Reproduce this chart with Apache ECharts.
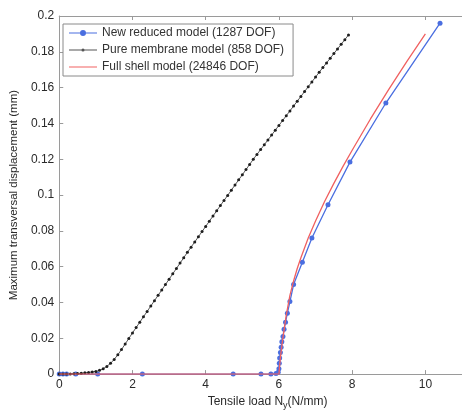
<!DOCTYPE html>
<html>
<head>
<meta charset="utf-8">
<script src="https://cdn.jsdelivr.net/npm/echarts@6/dist/echarts.min.js"></script>
<style>html,body{margin:0;padding:0;background:#fff}#c{width:462px;height:415px}</style>
</head>
<body>
<div id="c"></div>
<script>
// ---- data ----
var seriesNames = ['New reduced model (1287 DOF)', 'Pure membrane model (858 DOF)', 'Full shell model (24846 DOF)'];
var xTicks = [0, 2, 4, 6, 8, 10];
var yTicks = [0, 0.02, 0.04, 0.06, 0.08, 0.1, 0.12, 0.14, 0.16, 0.18, 0.2];

var blueX = [0, 0.1, 0.2, 0.45, 1.05, 2.27, 4.75, 5.51, 5.78, 5.92, 5.98, 6.0, 6.01, 6.02, 6.04, 6.06, 6.08, 6.11, 6.14, 6.18, 6.23, 6.3, 6.4, 6.64, 6.9, 7.34, 7.94, 8.92, 10.4];
var blueY = [0, 0, 0, 0, 0, 0, 0, 0, 0, 0.0003, 0.001, 0.003, 0.006, 0.009, 0.012, 0.015, 0.018, 0.021, 0.025, 0.029, 0.034, 0.0405, 0.050, 0.0625, 0.076, 0.0946, 0.1184, 0.1514, 0.196];

var blackX = [0, 0.1, 0.2, 0.3, 0.4, 0.5, 0.6, 0.7, 0.8, 0.9,
  1.0, 1.1, 1.2, 1.3, 1.4, 1.5, 1.6, 1.7, 1.8, 1.9,
  2.0, 2.1, 2.2, 2.3, 2.4, 2.5, 2.6, 2.7, 2.8, 2.9,
  3.0, 3.1, 3.2, 3.3, 3.4, 3.5, 3.6, 3.7, 3.8, 3.9,
  4.0, 4.1, 4.2, 4.3, 4.4, 4.5, 4.6, 4.7, 4.8, 4.9,
  5.0, 5.1, 5.2, 5.3, 5.4, 5.5, 5.6, 5.7, 5.8, 5.9,
  6.0, 6.1, 6.2, 6.3, 6.4, 6.5, 6.6, 6.7, 6.8, 6.9,
  7.0, 7.1, 7.2, 7.3, 7.4, 7.5, 7.6, 7.7, 7.8, 7.9];
var blackY = [0, 0, 0, 0.0001, 0.0002, 0.0003, 0.0005, 0.0007, 0.0009, 0.0012,
  0.0015, 0.0021, 0.0030, 0.0043, 0.0060, 0.0082, 0.0108, 0.0137, 0.0168, 0.0199,
  0.0230, 0.0260, 0.0290, 0.0320, 0.0350, 0.0380, 0.0410, 0.0440, 0.0470, 0.0500,
  0.0530, 0.0560, 0.0590, 0.0620, 0.0650, 0.0680, 0.0709, 0.0738, 0.0767, 0.0796,
  0.0825, 0.0854, 0.0883, 0.0912, 0.0941, 0.0970, 0.0998, 0.1027, 0.1056, 0.1085,
  0.1113, 0.1142, 0.1171, 0.1200, 0.1227, 0.1254, 0.1281, 0.1308, 0.1335, 0.1362,
  0.1389, 0.1416, 0.1443, 0.1470, 0.1497, 0.1524, 0.1551, 0.1578, 0.1605, 0.1632,
  0.1659, 0.1686, 0.1712, 0.1738, 0.1764, 0.1790, 0.1816, 0.1842, 0.1868, 0.1894];

var redX = [0, 5.9, 6.0, 6.02, 6.05, 6.1, 6.15, 6.2, 6.3, 6.4, 6.5, 6.6, 6.8, 7.0, 7.25, 7.5, 7.75, 8.0, 8.5, 9.0, 9.5, 10.0];
var redY = [0, 0, 0, 0.005, 0.011, 0.019, 0.026, 0.033, 0.044, 0.052, 0.059, 0.065, 0.076, 0.0855, 0.0965, 0.1065, 0.116, 0.125, 0.1425, 0.159, 0.1748, 0.190];

function pairs(xs, ys) { return xs.map(function (x, i) { return [x, ys[i]]; }); }

var FONT = 'Liberation Sans, Arial, sans-serif';
var AX = '#9a9a9a';
var TXT = '#2a2a2a';
var BLUE = '#4a6ee0', RED = '#f06060', DOT = '#1e1e1e';

var ICON_LINE = 'path://M0,5.5h28v1h-28z';
var ICON_LINE_DOT = 'path://M0,5.5h28v1h-28zM15.6,6a1.6,1.6 0 1,1 -3.2,0a1.6,1.6 0 1,1 3.2,0z';
var ICON_LINE_CIRCLE = 'path://M0,5.5h28v1h-28zM17,6a3,3 0 1,1 -6,0a3,3 0 1,1 6,0z';

var chart = echarts.init(document.getElementById('c'), null, { renderer: 'canvas' });
chart.setOption({
  animation: false,
  backgroundColor: '#fff',
  textStyle: { fontFamily: FONT },
  grid: { left: 56, top: 16, width: 417, height: 370, containLabel: false },
  legend: {
    left: 63, top: 24, orient: 'vertical',
    itemWidth: 28, itemHeight: 12, itemGap: 5,
    padding: [3, 9, 3, 6],
    borderColor: '#8a8a8a', borderWidth: 1, backgroundColor: '#fff',
    textStyle: { fontFamily: FONT, fontSize: 12, color: '#333' },
    data: [
      { name: seriesNames[0], icon: ICON_LINE_CIRCLE },
      { name: seriesNames[1], icon: ICON_LINE_DOT, itemStyle: { color: '#555' } },
      { name: seriesNames[2], icon: ICON_LINE }
    ]
  },
  xAxis: [{
    type: 'value', min: xTicks[0], max: 11, interval: 2, position: 'bottom',
    axisLine: { show: true, lineStyle: { color: AX, width: 1 } },
    axisTick: { show: true, inside: true, length: 4, lineStyle: { color: AX } },
    splitLine: { show: false },
    axisLabel: { color: TXT, fontSize: 12, fontFamily: FONT, margin: 5, showMaxLabel: false,
      formatter: function (v) { return xTicks.indexOf(v) >= 0 ? String(v) : ''; } },
    name: '{a|Tensile load N}{s|y}{a|(N/mm)}',
    nameLocation: 'middle', nameGap: 19,
    nameTextStyle: {
      padding: [0, 0, 0, 14],
      rich: {
        a: { fontSize: 12, color: TXT, fontFamily: FONT },
        s: { fontSize: 9, color: TXT, fontFamily: FONT, padding: [7, 0, 0, 0] }
      }
    }
  }, {
    type: 'value', min: xTicks[0], max: 11, interval: 2, position: 'top',
    axisLine: { show: true, lineStyle: { color: AX, width: 1 } },
    axisTick: { show: true, inside: true, length: 4, lineStyle: { color: AX } },
    splitLine: { show: false }, axisLabel: { show: false }
  }],
  yAxis: [{
    type: 'value', min: yTicks[0], max: yTicks[yTicks.length - 1], interval: 0.02,
    axisLine: { show: true, lineStyle: { color: AX, width: 1 } },
    axisTick: { show: true, inside: true, length: 4, lineStyle: { color: AX } },
    splitLine: { show: false },
    axisLabel: { color: TXT, fontSize: 12, fontFamily: FONT, margin: 5,
      formatter: function (v) { return String(Math.round(v * 100) / 100); } },
    name: 'Maximum transversal displacement (mm)',
    nameLocation: 'middle', nameGap: 36,
    nameTextStyle: { fontSize: 11.5, color: TXT, fontFamily: FONT }
  }],
  series: [{
    name: seriesNames[0], type: 'line', data: pairs(blueX, blueY),
    symbol: 'circle', symbolSize: 5, showSymbol: true,
    lineStyle: { color: BLUE, width: 1.3 },
    itemStyle: { color: BLUE },
    z: 2
  }, {
    name: seriesNames[1], type: 'line', data: pairs(blackX, blackY),
    symbol: 'circle', symbolSize: 3, showSymbol: true,
    lineStyle: { color: '#5a5a5a', width: 1 },
    itemStyle: { color: DOT },
    z: 3
  }, {
    name: seriesNames[2], type: 'line', data: pairs(redX, redY),
    symbol: 'none', showSymbol: false, smooth: false,
    lineStyle: { color: RED, width: 1.3 },
    itemStyle: { color: RED },
    z: 4
  }]
});
</script>
</body>
</html>
